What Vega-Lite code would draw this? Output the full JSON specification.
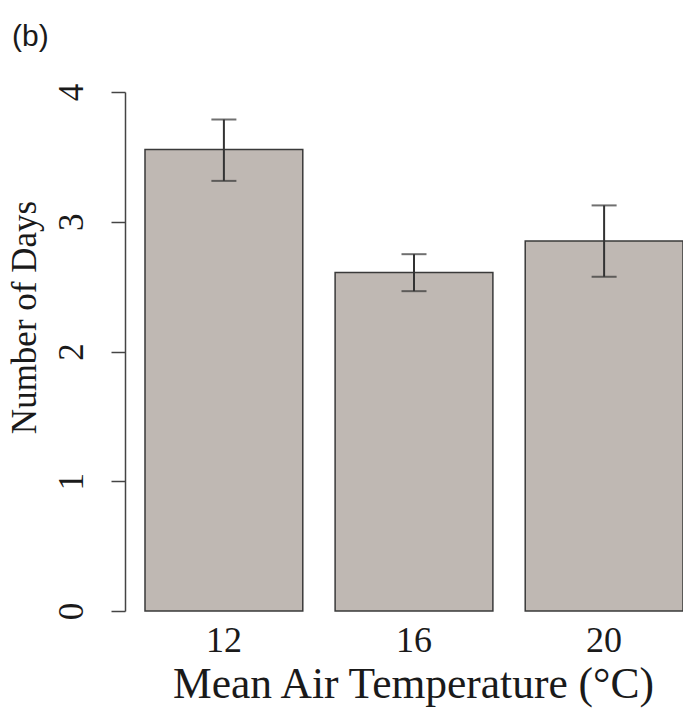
{
  "$schema": "https://vega.github.io/schema/vega-lite/v6.json",
  "width": 558,
  "height": 519,
  "autosize": {"type": "none"},
  "padding": {"left": 125, "top": 92, "right": 0, "bottom": 98},
  "background": "white",
  "config": {"view": {"stroke": null}, "font": "Liberation Serif"},
  "title": {
    "text": "(b)",
    "anchor": "start",
    "frame": "group",
    "font": "Liberation Sans",
    "fontSize": 30,
    "fontWeight": "normal",
    "color": "#1a1a1a",
    "dx": -113,
    "offset": 31
  },
  "data": {
    "values": [
      {"temp": "12", "mean": 3.557, "lo": 3.315, "hi": 3.788},
      {"temp": "16", "mean": 2.609, "lo": 2.465, "hi": 2.750},
      {"temp": "20", "mean": 2.851, "lo": 2.576, "hi": 3.126}
    ]
  },
  "encoding": {
    "x": {
      "field": "temp",
      "type": "ordinal",
      "sort": null,
      "scale": {"paddingInner": 0.17, "paddingOuter": 0.0526, "align": 1},
      "axis": {
        "title": "Mean Air Temperature (°C)",
        "labelAngle": 0,
        "domain": false,
        "ticks": false,
        "labelFont": "Liberation Serif",
        "labelFontSize": 36,
        "labelColor": "#1a1a1a",
        "labelPadding": 12,
        "titleFont": "Liberation Serif",
        "titleFontSize": 43.5,
        "titleFontWeight": "normal",
        "titleColor": "#1a1a1a",
        "titlePadding": 5,
        "titleX": 288
      }
    }
  },
  "layer": [
    {
      "mark": {"type": "bar", "fill": "#bfb8b3", "stroke": "#3a3a3a", "strokeWidth": 1.5},
      "encoding": {
        "y": {
          "field": "mean",
          "type": "quantitative",
          "scale": {"domain": [0, 4], "nice": false},
          "title": "Number of Days",
          "axis": {
            "values": [0, 1, 2, 3, 4],
            "format": "d",
            "grid": false,
            "domainColor": "#444444",
            "domainWidth": 1.5,
            "tickColor": "#444444",
            "tickWidth": 1.5,
            "tickSize": 14,
            "labelAngle": -90,
            "labelAlign": "center",
            "labelBaseline": "bottom",
            "labelFont": "Liberation Serif",
            "labelFontSize": 35,
            "labelColor": "#1a1a1a",
            "labelPadding": 22,
            "titleFont": "Liberation Serif",
            "titleFontSize": 35,
            "titleFontWeight": "normal",
            "titleColor": "#1a1a1a",
            "titlePadding": 12,
            "titleY": 225
          }
        }
      }
    },
    {
      "mark": {"type": "rule", "color": "#333333", "strokeWidth": 2},
      "encoding": {
        "y": {"field": "lo", "type": "quantitative", "title": "Number of Days"},
        "y2": {"field": "hi"}
      }
    },
    {
      "mark": {"type": "tick", "color": "#333333", "thickness": 2, "size": 25},
      "encoding": {"y": {"field": "lo", "type": "quantitative", "title": "Number of Days"}}
    },
    {
      "mark": {"type": "tick", "color": "#333333", "thickness": 2, "size": 25},
      "encoding": {"y": {"field": "hi", "type": "quantitative", "title": "Number of Days"}}
    }
  ]
}
